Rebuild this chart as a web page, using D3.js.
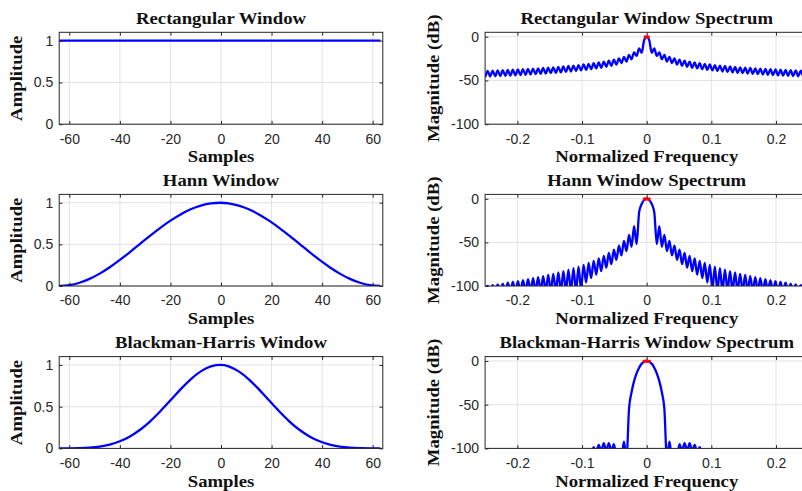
<!DOCTYPE html>
<html><head><meta charset="utf-8">
<script src="https://cdn.jsdelivr.net/npm/d3@7"></script>
<style>body{margin:0;background:#fff}svg{display:block}</style>
</head><body><svg id="c" width="802" height="491"></svg>
<script>
// ---------------- data ----------------
const sampleTicks = [-60, -40, -20, 0, 20, 40, 60];
const amplitudeTicks = [0, 0.5, 1];
const freqTicks = [-0.2, -0.1, 0, 0.1, 0.2];
const magnitudeTicks = [-100, -50, 0];

const rectWindowSamples = [-64, 63];
const rectWindowValues = [1, 1];

const windowSamples = [-64,-60,-56,-52,-48,-44,-40,-36,-32,-28,-24,-20,-16,-12,-8,-4,0,3,7,11,15,19,23,27,31,35,39,43,47,51,55,59,63];
const hannWindowValues = [0,0.0098,0.0387,0.0856,0.1486,0.2254,0.3130,0.4078,0.5062,0.6044,0.6985,0.7849,0.8599,0.9213,0.9660,0.9925,0.9998,0.9925,0.9660,0.9213,0.8599,0.7849,0.6985,0.6044,0.5062,0.4078,0.3130,0.2254,0.1486,0.0856,0.0387,0.0098,0];
const bhWindowValues = [0.0001,0.0007,0.0031,0.0093,0.0222,0.0459,0.0851,0.1432,0.2231,0.3248,0.4449,0.5760,0.7077,0.8278,0.9231,0.9828,0.9997,0.9828,0.9231,0.8278,0.7077,0.5760,0.4449,0.3248,0.2231,0.1432,0.0851,0.0459,0.0222,0.0093,0.0031,0.0007,0.0001];

// spectra: magnitude (dB) read every half FFT bin (1/256 normalized frequency) from 0 upward; symmetric about 0
const spectrumStep = 1 / 256;
const rectSpectrumDb = [0,-3.9,-18.5,-13.5,-22,-17.9,-25.8,-20.8,-28.4,-23.0,-30.3,-24.7,-31.9,-26.2,-33.3,-27.4,-34.4,-28.5,-35.5,-29.4,-36.3,-30.3,-37.2,-31.0,-37.9,-31.8,-38.6,-32.4,-39.2,-33.0,-39.8,-33.5,-40.3,-34.1,-40.8,-34.5,-41.3,-35.0,-41.7,-35.4,-42.1,-35.8,-42.5,-36.2,-42.9,-36.5,-43.2,-36.9,-43.6,-37.2,-43.9,-37.5,-44.2,-37.8,-44.5,-38.1,-44.7,-38.3,-45.0,-38.6,-45.2,-38.8,-45.4,-39.0,-45.6,-39.2];
const hannSpectrumDb = [0,-1.4,-6.0,-15.4,-52,-31.5,-55,-41.3,-60,-48.3,-65,-53.8,-70,-58.3,-75,-62.1,-79,-65.4,-83,-68.4,-87,-71.1,-91,-73.5,-96,-75.7,-104,-77.7,-106,-79.6,-106,-81.3,-106,-83.0,-106,-84.5,-106,-86.0,-106,-87.3,-106,-88.6,-106,-89.9,-106,-91.1,-106,-92.2,-106,-93.3,-106,-94.3,-106,-95.3,-106,-96.3,-106,-97.2,-106,-98.1,-106,-99.0,-106,-99.8,-106,-100.7];
const bhSpectrumDb = [0,-0.8,-3.3,-7.7,-14.1,-23.1,-35.8,-54.8,-112,-92.4,-110,-101,-108,-95,-103,-94,-103,-94,-103,-96,-104,-98.5,-106,-101,-108,-103,-108,-103,-108,-103,-108,-103,-108,-103,-108,-103,-108,-103,-108,-103,-108,-103,-108,-103,-108,-103,-108,-103,-108,-103,-108,-103,-108,-103,-108,-103,-108,-103,-108,-103,-108,-103,-108,-103,-108,-103];

// red markers at the spectral peak (points within ~1 dB of 0 dB)
const rectPeakFreq = [-0.0022, 0, 0.0022], rectPeakDb = [-0.3, 0, -0.3];
const hannPeakFreq = [-0.0035, 0, 0.0035], hannPeakDb = [-0.3, 0, -0.3];
const bhPeakFreq = [-0.0038, 0, 0.0038], bhPeakDb = [-0.3, 0, -0.3];

// ---------------- drawing ----------------
const svg = d3.select('#c');
svg.append('rect').attr('width', 802).attr('height', 491).attr('fill', '#fff');
const defs = svg.append('defs');

const cols = [{x0: 59.2, x1: 382.8}, {x0: 485.1, x1: 808.3}];
const rows = [{y0: 32.3, y1: 124.2}, {y0: 194.4, y1: 286.0}, {y0: 356.6, y1: 448.4}];

const tickFont = "'Liberation Sans', Arial, Helvetica, sans-serif";
const serifFont = "'Liberation Serif', 'Times New Roman', serif";
const stretch = 1.17;

function zipPts(xs, ys) { return xs.map((v, i) => [v, ys[i]]); }
function mirrorSpectrum(db) {
  const pos = db.map((v, i) => [i * spectrumStep, v]);
  const neg = pos.slice(1).map(p => [-p[0], p[1]]).reverse();
  return neg.concat(pos);
}

let clipCount = 0;
function panel(cfg) {
  const {x0, x1} = cfg.col, {y0, y1} = cfg.row;
  const x = d3.scaleLinear().domain(cfg.xDomain).range([x0, x1]);
  const y = d3.scaleLinear().domain(cfg.yDomain).range([y1, y0]);
  const g = svg.append('g');

  // grid
  g.selectAll('line.gx').data(cfg.xTicks).join('line')
    .attr('x1', d => x(d)).attr('x2', d => x(d)).attr('y1', y0).attr('y2', y1)
    .attr('stroke', '#e2e2e2').attr('stroke-width', 1);
  g.selectAll('line.gy').data(cfg.yTicks).join('line')
    .attr('y1', d => y(d)).attr('y2', d => y(d)).attr('x1', x0).attr('x2', x1)
    .attr('stroke', '#e2e2e2').attr('stroke-width', 1);

  // clip
  const id = 'clip' + (clipCount++);
  defs.append('clipPath').attr('id', id).append('rect')
    .attr('x', x0).attr('y', y0 - 1).attr('width', x1 - x0).attr('height', y1 - y0 + 1);

  cfg.series.forEach(s => {
    g.append('path').datum(s.points)
      .attr('clip-path', `url(#${id})`)
      .attr('fill', 'none').attr('stroke', s.color).attr('stroke-width', s.width)
      .attr('stroke-linejoin', 'round').attr('stroke-linecap', s.cap || 'butt')
      .attr('d', d3.line().x(d => x(d[0])).y(d => y(d[1])).curve(s.curve || d3.curveLinear));
  });

  // axes
  const fmt = d => String(d);
  const styleAxis = sel => {
    sel.select('.domain').remove();
    sel.selectAll('.tick line').attr('stroke', '#262626');
    sel.selectAll('.tick text').attr('fill', '#262626').style('font-family', tickFont).style('font-size', '14px');
  };
  g.append('g').attr('transform', `translate(0,${y1})`)
    .call(d3.axisBottom(x).tickValues(cfg.xTicks).tickFormat(fmt).tickSizeInner(-3.3).tickSizeOuter(0).tickPadding(9.5)).call(styleAxis);
  g.append('g').attr('transform', `translate(0,${y0})`)
    .call(d3.axisTop(x).tickValues(cfg.xTicks).tickFormat(() => '').tickSizeInner(-3.3).tickSizeOuter(0)).call(styleAxis);
  g.append('g').attr('transform', `translate(${x0},0)`)
    .call(d3.axisLeft(y).tickValues(cfg.yTicks).tickFormat(fmt).tickSizeInner(-3.3).tickSizeOuter(0).tickPadding(6)).call(styleAxis);
  g.append('g').attr('transform', `translate(${x1},0)`)
    .call(d3.axisRight(y).tickValues(cfg.yTicks).tickFormat(() => '').tickSizeInner(-3.3).tickSizeOuter(0)).call(styleAxis);

  // box
  g.append('rect').attr('x', x0).attr('y', y0).attr('width', x1 - x0).attr('height', y1 - y0)
    .attr('fill', 'none').attr('stroke', '#262626').attr('stroke-width', 1);

  const midX = (x0 + x1) / 2, midY = (y0 + y1) / 2;
  const txt = (str, tx, ty, rot) => g.append('text')
    .attr('transform', `translate(${tx},${ty})` + (rot ? ' rotate(-90)' : '') + ` scale(${stretch},1)`)
    .attr('text-anchor', 'middle').style('font-family', serifFont).style('font-weight', 'bold')
    .style('font-size', '16px').attr('fill', '#111').text(str);
  txt(cfg.title, midX, y0 - 8.3, false);
  txt(cfg.xLabel, midX, y1 + 38.2, false);
  txt(cfg.yLabel, cfg.yLabelX, midY, true);
}

const windowRows = [
  {title: 'Rectangular Window', pts: zipPts(rectWindowSamples, rectWindowValues)},
  {title: 'Hann Window', pts: zipPts(windowSamples, hannWindowValues)},
  {title: 'Blackman-Harris Window', pts: zipPts(windowSamples, bhWindowValues)}
];
const spectrumRows = [
  {title: 'Rectangular Window Spectrum', db: rectSpectrumDb, pf: rectPeakFreq, pd: rectPeakDb},
  {title: 'Hann Window Spectrum', db: hannSpectrumDb, pf: hannPeakFreq, pd: hannPeakDb},
  {title: 'Blackman-Harris Window Spectrum', db: bhSpectrumDb, pf: bhPeakFreq, pd: bhPeakDb}
];

windowRows.forEach((w, i) => panel({
  col: cols[0], row: rows[i], xDomain: [-64, 64], yDomain: [0, 1.1],
  xTicks: sampleTicks, yTicks: amplitudeTicks,
  title: w.title, xLabel: 'Samples', yLabel: 'Amplitude', yLabelX: 22,
  series: [{points: w.pts, color: '#0000ff', width: 2.3, curve: d3.curveMonotoneX}]
}));

spectrumRows.forEach((s, i) => panel({
  col: cols[1], row: rows[i], xDomain: [-0.25, 0.25], yDomain: [-100, 5],
  xTicks: freqTicks, yTicks: magnitudeTicks,
  title: s.title, xLabel: 'Normalized Frequency', yLabel: 'Magnitude (dB)', yLabelX: 438.5,
  series: [
    {points: mirrorSpectrum(s.db), color: '#0000ff', width: 2.3, curve: d3.curveMonotoneX},
    {points: zipPts(s.pf, s.pd), color: '#ff0000', width: 3, curve: d3.curveLinear, cap: 'square'}
  ]
}));
</script></body></html>
